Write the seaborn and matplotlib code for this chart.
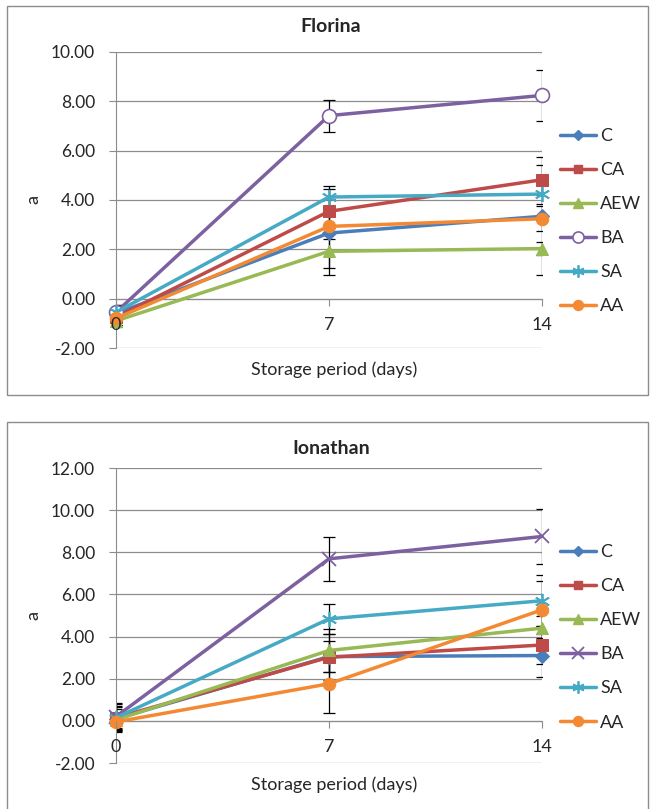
import numpy as np
import pandas as pd
import seaborn as sb
import matplotlib.pyplot as plt
from matplotlib.patches import Rectangle
from matplotlib.lines import Line2D

# storage days
days = [0, 7, 14]
treatments = ["C", "CA", "AEW", "BA", "SA", "AA"]

# Florina - means
flo_C = [-0.60, 2.66, 3.34]
flo_CA = [-0.75, 3.54, 4.82]
flo_AEW = [-0.90, 1.92, 2.03]
flo_BA = [-0.55, 7.42, 8.24]
flo_SA = [-0.55, 4.12, 4.24]
flo_AA = [-0.80, 2.93, 3.24]
# Florina - error bars
flo_C_err = [0.30, 1.40, 2.40]
flo_CA_err = [0.30, 0.90, 0.60]
flo_AEW_err = [0.25, 0.95, 0.25]
flo_BA_err = [0.30, 0.65, 1.05]
flo_SA_err = [0.30, 0.45, 0.40]
flo_AA_err = [0.25, 0.50, 0.50]

# Ionathan - means
ion_C = [0.10, 3.05, 3.10]
ion_CA = [0.15, 3.02, 3.60]
ion_AEW = [0.05, 3.34, 4.40]
ion_BA = [0.20, 7.69, 8.75]
ion_SA = [0.15, 4.84, 5.70]
ion_AA = [-0.05, 1.76, 5.27]
# Ionathan - error bars
ion_C_err = [0.60, 0.75, 1.00]
ion_CA_err = [0.70, 1.10, 0.90]
ion_AEW_err = [0.50, 1.00, 0.60]
ion_BA_err = [0.60, 1.05, 1.30]
ion_SA_err = [0.50, 0.70, 1.20]
ion_AA_err = [0.40, 1.37, 1.35]

colors = {"C": "#4a7ebb", "CA": "#be4b48", "AEW": "#98b954",
          "BA": "#7d60a0", "SA": "#46aac5", "AA": "#f38a33"}

sb.set_style("white")
plt.rcParams['font.family'] = ['Lato', 'DejaVu Sans']

W, H = 651, 809
fig = plt.figure(figsize=(W / 100, H / 100), dpi=100)


def fx(px):
    return px / W


def fy(py):
    return 1 - py / H


# outer chart frames
for top, bot in [(6, 395), (422, 812)]:
    fig.patches.append(Rectangle((fx(7), fy(bot)), fx(648) - fx(7), fy(top) - fy(bot),
                                 transform=fig.transFigure, fill=False,
                                 edgecolor="#8c8c8c", lw=1.0))


def draw_panel(top, bot, title_y, title, means, errs, ba_marker, ymax):
    ax = fig.add_axes([fx(116), fy(bot), fx(542) - fx(116), fy(top) - fy(bot)])
    markers = {"C": dict(marker="D", ms=7),
               "CA": dict(marker="s", ms=8),
               "AEW": dict(marker="^", ms=9),
               "BA": ba_marker,
               "SA": dict(marker=(6, 2, 0), ms=11, mew=1.3),
               "AA": dict(marker="o", ms=9)}
    handles = []
    for t in treatments:
        df = pd.DataFrame({"day": days, "val": means[t]})
        ax.errorbar(days, means[t], yerr=errs[t], fmt="none", ecolor="black",
                    elinewidth=0.9, capsize=4, capthick=0.9, zorder=2)
        kw = dict(markers[t])
        if "mfc" not in kw:
            kw["mfc"] = colors[t]
        kw.setdefault("mec", colors[t])
        sb.lineplot(data=df, x="day", y="val", ax=ax, color=colors[t],
                    lw=2.5, zorder=3, clip_on=False, **kw)
        handles.append(Line2D([], [], color=colors[t], lw=2.5, label=t,
                              **{k: (v * 0.8 if k == "ms" else v) for k, v in kw.items()}))
    ax.set_xlim(0, 14)
    ax.set_ylim(-2, ymax)
    ax.set_yticks(np.arange(-2, ymax + 0.1, 2))
    ax.set_yticklabels(["%.2f" % v for v in np.arange(-2, ymax + 0.1, 2)])
    ax.set_xticks(days)
    ax.set_xticklabels([str(d) for d in days])
    ax.grid(axis="y", color="#8c8c8c", lw=0.9)
    ax.grid(axis="x", visible=False)
    for s in ["top", "right"]:
        ax.spines[s].set_visible(False)
    ax.spines["left"].set_color("#8c8c8c")
    ax.spines["bottom"].set_color("#8c8c8c")
    ax.spines["bottom"].set_position(("data", 0))
    ax.tick_params(axis="y", length=5, color="#8c8c8c", left=True, pad=10,
                   labelsize=12.5)
    ax.tick_params(axis="x", length=5, color="#8c8c8c", bottom=True, pad=8,
                   labelsize=13)
    ax.xaxis.set_zorder(4)
    ax.set_xlabel("")
    ax.set_ylabel("")
    fig.text(fx(331), fy(title_y), title, ha="center", va="center",
             fontsize=14, fontweight="bold")
    fig.text(fx(33), (fy(top) + fy(bot)) / 2, "a", ha="center", va="center",
             rotation=90, fontsize=13)
    fig.text(fx(334), fy(bot + 22), "Storage period (days)", ha="center",
             va="center", fontsize=13)
    fig.legend(handles=handles, loc="upper left",
               bbox_to_anchor=(fx(553), fy(top + 69)), frameon=False,
               fontsize=13, handlelength=2.0, labelspacing=1.0,
               handletextpad=0.2, borderaxespad=0)
    return ax


flo_means = {"C": flo_C, "CA": flo_CA, "AEW": flo_AEW, "BA": flo_BA, "SA": flo_SA, "AA": flo_AA}
flo_errs = {"C": flo_C_err, "CA": flo_CA_err, "AEW": flo_AEW_err, "BA": flo_BA_err,
            "SA": flo_SA_err, "AA": flo_AA_err}
ion_means = {"C": ion_C, "CA": ion_CA, "AEW": ion_AEW, "BA": ion_BA, "SA": ion_SA, "AA": ion_AA}
ion_errs = {"C": ion_C_err, "CA": ion_CA_err, "AEW": ion_AEW_err, "BA": ion_BA_err,
            "SA": ion_SA_err, "AA": ion_AA_err}

draw_panel(52, 348, 27, "Florina", flo_means, flo_errs,
           dict(marker="o", ms=10, mfc="white", mew=1.2), 10)
draw_panel(468, 763, 448, "Ionathan", ion_means, ion_errs,
           dict(marker="x", ms=10, mew=1.3), 12)

fig.savefig("out.png", dpi=100)
